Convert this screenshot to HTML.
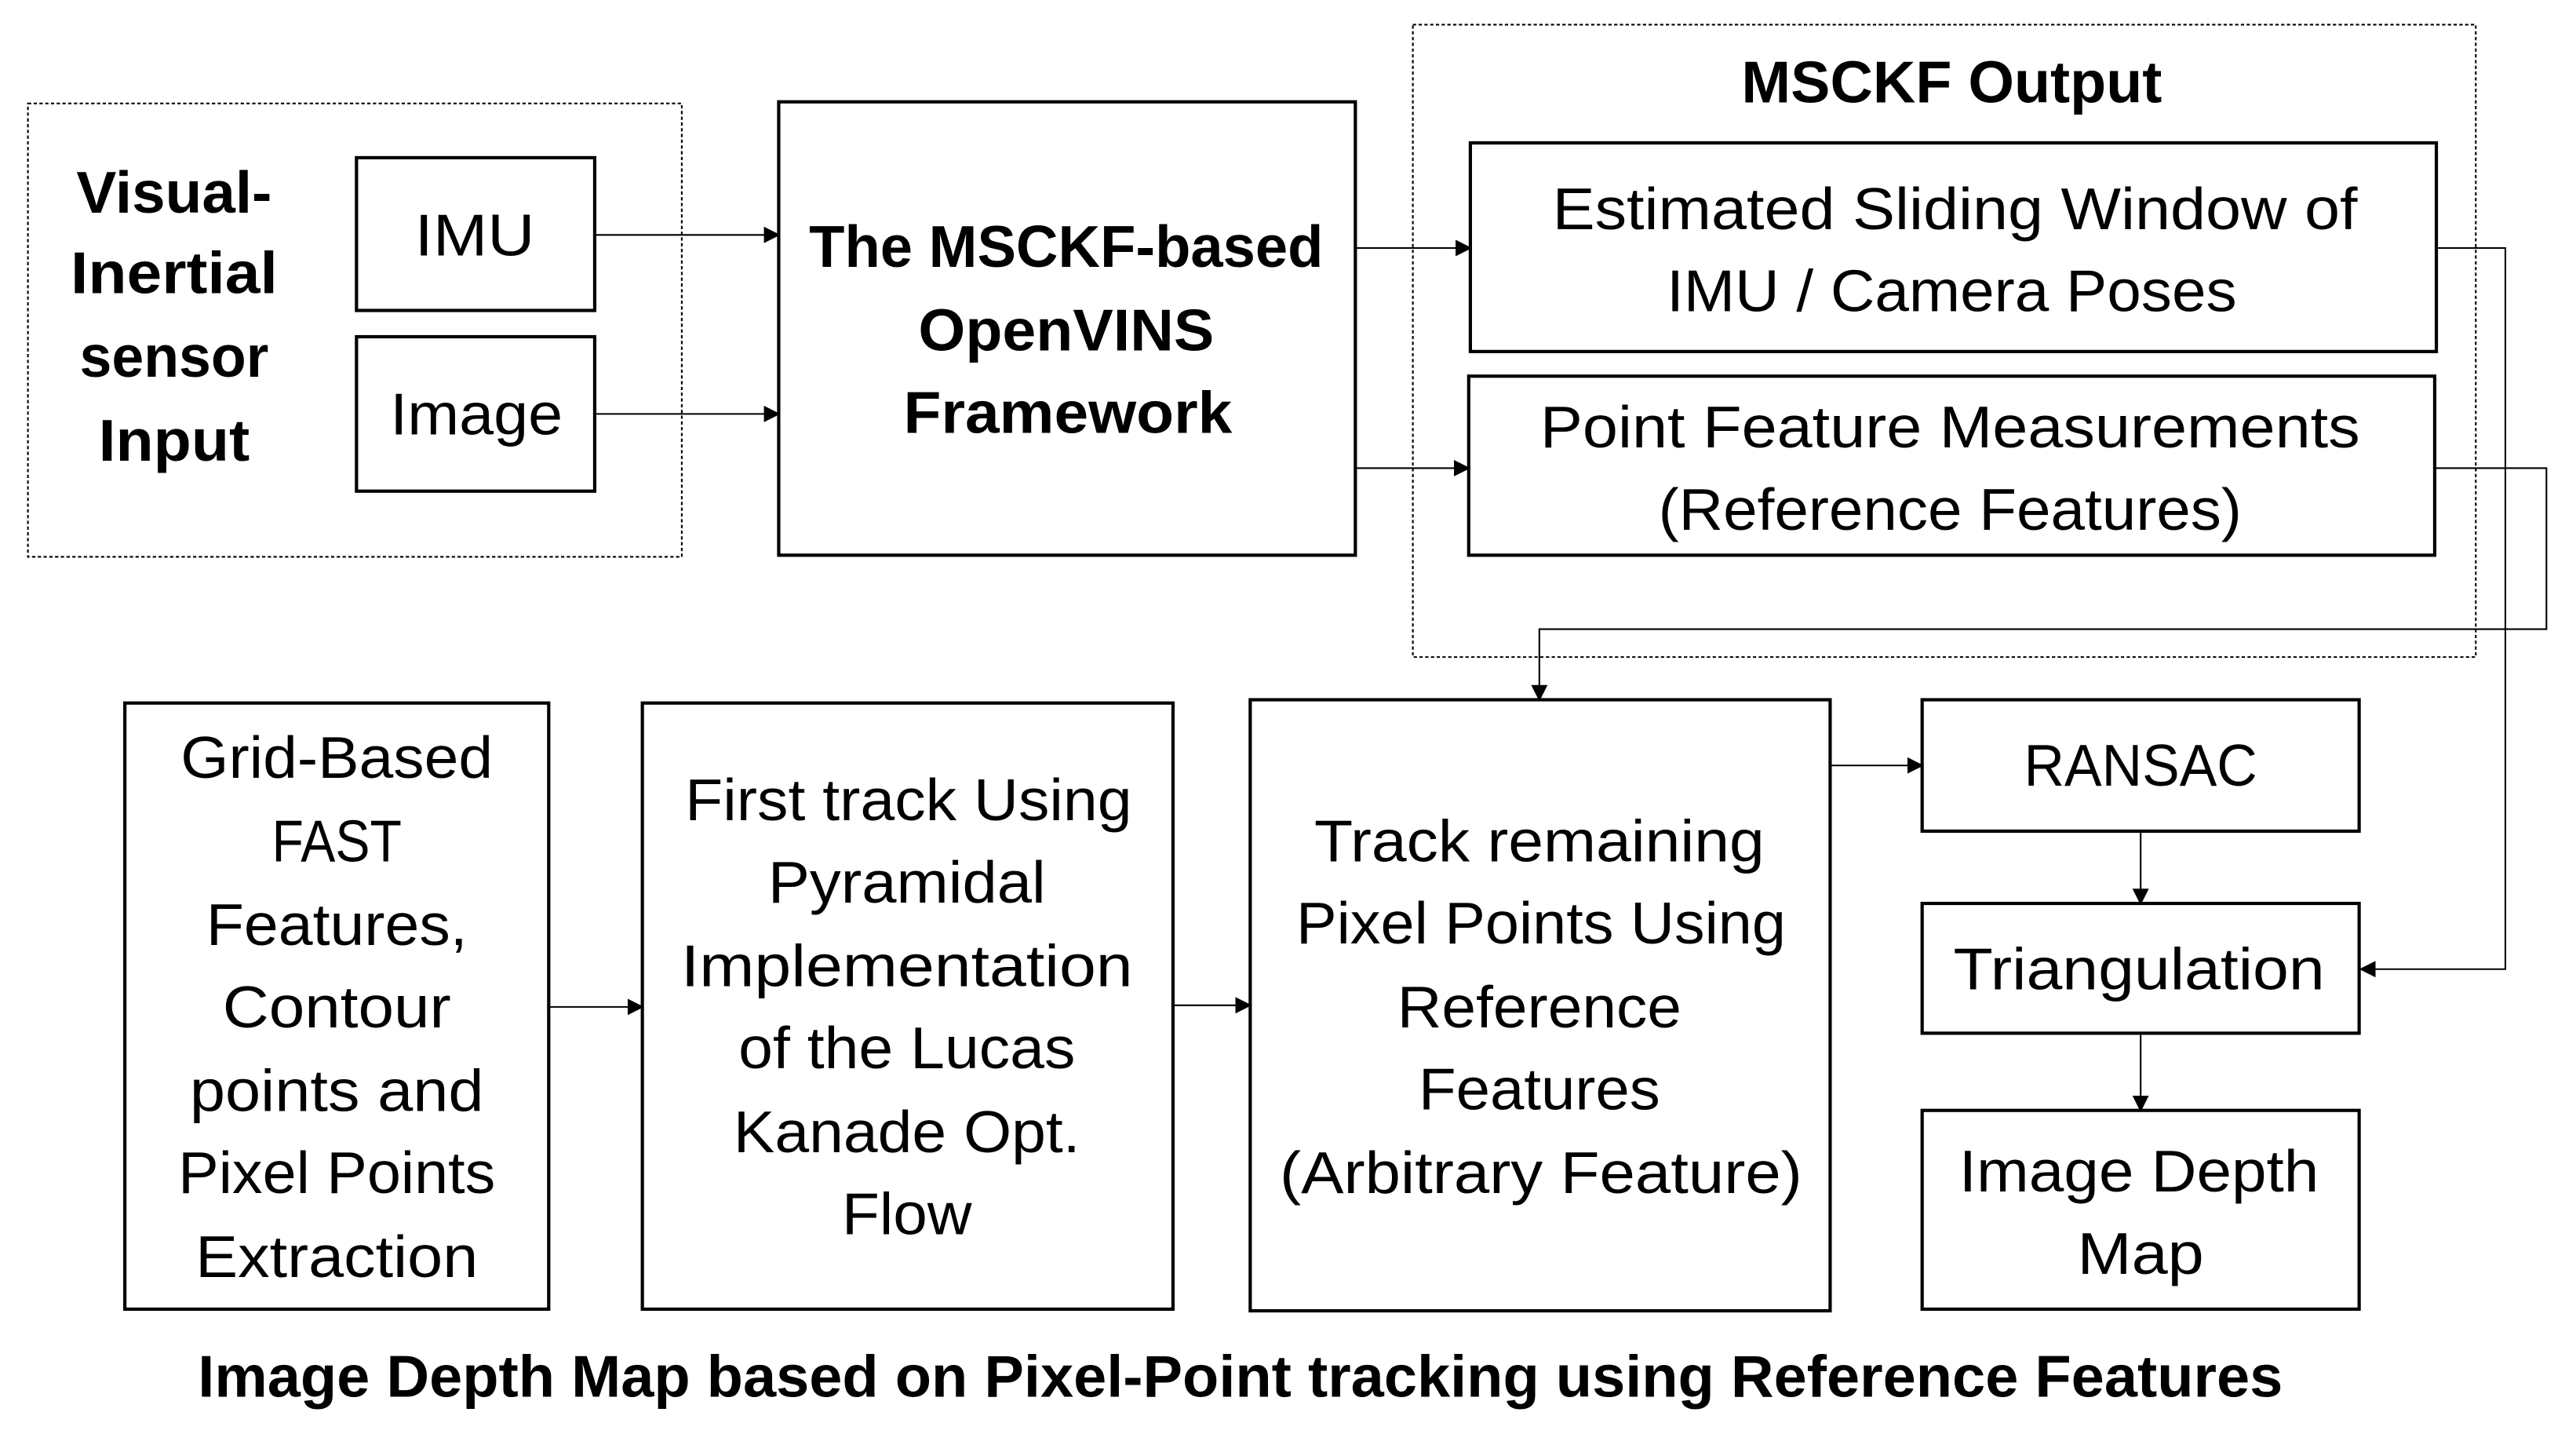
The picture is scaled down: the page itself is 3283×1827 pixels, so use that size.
<!DOCTYPE html>
<html><head><meta charset="utf-8"><style>
html,body{margin:0;padding:0;background:#fff;}
svg{display:block;}
text{font-family:"Liberation Sans",sans-serif;fill:#000;dominant-baseline:central;text-anchor:middle;}
.b{font-weight:bold;}
</style></head><body>
<svg width="3283" height="1827" viewBox="0 0 1568 873" preserveAspectRatio="none" xmlns="http://www.w3.org/2000/svg">
<defs><marker id="a" markerWidth="10" markerHeight="10" refX="9" refY="5" orient="auto" markerUnits="userSpaceOnUse"><path d="M0,0 L10,5 L0,10 z" fill="#000"/></marker></defs>
<g fill="none" stroke="#000">
<rect x="17" y="63" width="398" height="276" stroke-dasharray="2,1.5" stroke-width="1"/>
<rect x="860" y="15" width="647" height="385" stroke-dasharray="2,1.5" stroke-width="1"/>
<g stroke-width="2">
<rect x="217" y="96" width="145" height="93"/>
<rect x="217" y="205" width="145" height="94"/>
<rect x="474" y="62" width="351" height="276"/>
<rect x="895" y="87" width="588" height="127"/>
<rect x="894" y="229" width="588" height="109"/>
<rect x="76" y="428" width="258" height="369"/>
<rect x="391" y="428" width="323" height="369"/>
<rect x="761" y="426" width="353" height="372"/>
<rect x="1170" y="426" width="266" height="80"/>
<rect x="1170" y="550" width="266" height="79"/>
<rect x="1170" y="676" width="266" height="121"/>
</g>
<g stroke-width="1" marker-end="url(#a)">
<line x1="362" y1="143" x2="474" y2="143"/>
<line x1="362" y1="252" x2="474" y2="252"/>
<line x1="825" y1="151" x2="895" y2="151"/>
<line x1="825" y1="285" x2="894" y2="285"/>
<polyline points="1483,151 1525,151 1525,590 1437,590"/>
<polyline points="1482,285 1550,285 1550,383 937,383 937,426"/>
<line x1="334" y1="613" x2="391" y2="613"/>
<line x1="714" y1="612" x2="761" y2="612"/>
<line x1="1114" y1="466" x2="1170" y2="466"/>
<line x1="1303" y1="506" x2="1303" y2="550"/>
<line x1="1303" y1="629" x2="1303" y2="676"/>
</g>
</g>
<g font-size="36">
<text class="b" x="106" y="117" textLength="119" lengthAdjust="spacingAndGlyphs">Visual-</text>
<text class="b" x="106" y="166" textLength="126" lengthAdjust="spacingAndGlyphs">Inertial</text>
<text class="b" x="106" y="217" textLength="115" lengthAdjust="spacingAndGlyphs">sensor</text>
<text class="b" x="106" y="268" textLength="92" lengthAdjust="spacingAndGlyphs">Input</text>
<text x="289" y="143" textLength="73" lengthAdjust="spacingAndGlyphs">IMU</text>
<text x="290" y="252" textLength="105" lengthAdjust="spacingAndGlyphs">Image</text>
<text class="b" x="649" y="150" textLength="313" lengthAdjust="spacingAndGlyphs">The MSCKF-based</text>
<text class="b" x="649" y="201" textLength="180" lengthAdjust="spacingAndGlyphs">OpenVINS</text>
<text class="b" x="650" y="251" textLength="200" lengthAdjust="spacingAndGlyphs">Framework</text>
<text class="b" x="1188" y="50" textLength="256" lengthAdjust="spacingAndGlyphs">MSCKF Output</text>
<text x="1190" y="127" textLength="490" lengthAdjust="spacingAndGlyphs">Estimated Sliding Window of</text>
<text x="1188" y="177" textLength="347" lengthAdjust="spacingAndGlyphs">IMU / Camera Poses</text>
<text x="1187" y="260" textLength="499" lengthAdjust="spacingAndGlyphs">Point Feature Measurements</text>
<text x="1187" y="310" textLength="355" lengthAdjust="spacingAndGlyphs">(Reference Features)</text>
<text x="205" y="461" textLength="190" lengthAdjust="spacingAndGlyphs">Grid-Based</text>
<text x="205" y="512" textLength="79" lengthAdjust="spacingAndGlyphs">FAST</text>
<text x="205" y="563" textLength="159" lengthAdjust="spacingAndGlyphs">Features,</text>
<text x="205" y="613" textLength="139" lengthAdjust="spacingAndGlyphs">Contour</text>
<text x="205" y="664" textLength="179" lengthAdjust="spacingAndGlyphs">points and</text>
<text x="205" y="714" textLength="193" lengthAdjust="spacingAndGlyphs">Pixel Points</text>
<text x="205" y="765" textLength="172" lengthAdjust="spacingAndGlyphs">Extraction</text>
<text x="553" y="487" textLength="272" lengthAdjust="spacingAndGlyphs">First track Using</text>
<text x="552" y="537" textLength="169" lengthAdjust="spacingAndGlyphs">Pyramidal</text>
<text x="552" y="588" textLength="275" lengthAdjust="spacingAndGlyphs">Implementation</text>
<text x="552" y="638" textLength="205" lengthAdjust="spacingAndGlyphs">of the Lucas</text>
<text x="552" y="689" textLength="211" lengthAdjust="spacingAndGlyphs">Kanade Opt.</text>
<text x="552" y="739" textLength="79" lengthAdjust="spacingAndGlyphs">Flow</text>
<text x="937" y="512" textLength="274" lengthAdjust="spacingAndGlyphs">Track remaining</text>
<text x="938" y="562" textLength="298" lengthAdjust="spacingAndGlyphs">Pixel Points Using</text>
<text x="937" y="613" textLength="173" lengthAdjust="spacingAndGlyphs">Reference</text>
<text x="937" y="663" textLength="147" lengthAdjust="spacingAndGlyphs">Features</text>
<text x="938" y="714" textLength="318" lengthAdjust="spacingAndGlyphs">(Arbitrary Feature)</text>
<text x="1303" y="466" textLength="142" lengthAdjust="spacingAndGlyphs">RANSAC</text>
<text x="1302" y="590" textLength="226" lengthAdjust="spacingAndGlyphs">Triangulation</text>
<text x="1302" y="713" textLength="219" lengthAdjust="spacingAndGlyphs">Image Depth</text>
<text x="1303" y="763" textLength="77" lengthAdjust="spacingAndGlyphs">Map</text>
<text class="b" x="755" y="838" textLength="1269" lengthAdjust="spacingAndGlyphs">Image Depth Map based on Pixel-Point tracking using Reference Features</text>
</g>
</svg>
</body></html>
